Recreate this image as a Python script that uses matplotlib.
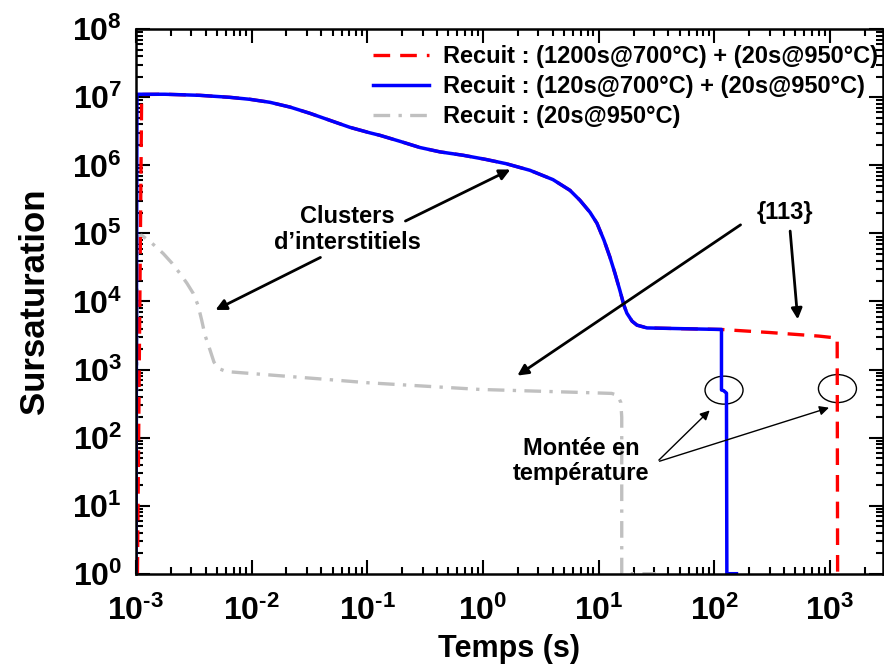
import numpy as np
import matplotlib
matplotlib.use("Agg")
import matplotlib.pyplot as plt
from matplotlib.patches import Ellipse
from matplotlib.ticker import LogLocator, NullFormatter

plt.rcParams['font.family'] = ['Liberation Sans', 'DejaVu Sans']
plt.rcParams['font.weight'] = 'bold'
plt.rcParams['mathtext.fontset'] = 'custom'
plt.rcParams['mathtext.bf'] = 'Liberation Sans:bold'
plt.rcParams['mathtext.rm'] = 'Liberation Sans:bold'

# donnees lues sur la figure
# recuit (120s@700C) + (20s@950C)
t_blue = [1.0e-3, 1.02e-3, 1.78e-3, 3.57e-3, 6.49e-3, 9.67e-3, 0.0144, 0.0214, 0.0319,
          0.0475, 0.0708, 0.105, 0.128, 0.191, 0.285, 0.424, 0.670, 1.04, 1.58, 2.54,
          4.02, 5.64, 6.88, 8.39, 9.65, 11.1, 12.5, 13.8, 15.2, 16.5, 17.5, 19.4, 21.4,
          26.1, 50.4, 115,
          115, 120, 127, 128, 155]
s_blue = [1, 1.11e7, 1.11e7, 1.07e7, 1.0e7, 9.35e6, 8.45e6, 7.2e6, 5.82e6,
          4.59e6, 3.62e6, 3.01e6, 2.77e6, 2.26e6, 1.83e6, 1.58e6, 1.41e6, 1.23e6, 1.06e6, 8.47e5,
          6.18e5, 4.3e5, 3.07e5, 2.05e5, 1.41e5, 7.94e4, 4.47e4, 2.6e4, 1.47e4, 8.8e3, 6.73e3, 5.14e3, 4.49e3,
          4.09e3, 3.99e3, 3.88e3,
          500, 490, 450, 1, 1]

# recuit (1200s@700C) + (20s@950C) : identique au precedent jusqu'a 115 s
t_red = [1.03e-3, 1.12e-3] + t_blue[2:36] + [300, 800, 1150, 1160]
s_red = [1, 1.1e7] + s_blue[2:36] + [3.5e3, 3.1e3, 2.9e3, 1]

# recuit (20s@950C)
t_gray = [1.0e-3, 1.03e-3, 1.12e-3, 1.375e-3, 1.72e-3, 2.05e-3, 2.4e-3, 2.76e-3, 3.13e-3,
          3.44e-3, 3.7e-3, 3.95e-3, 4.37e-3, 4.72e-3, 5.15e-3, 5.76e-3, 6.5e-3, 0.0445,
          0.1, 0.94, 6.9, 12.9, 14.5, 15.5, 15.8, 15.8, 31]
s_gray = [1, 9e4, 9.4e4, 7.18e4, 5.07e4, 3.65e4, 2.58e4, 1.85e4, 1.31e4,
          8.8e3, 5.3e3, 3.2e3, 1.93e3, 1.29e3, 1.04e3, 964, 925, 716,
          640, 510, 461, 446, 420, 330, 200, 1, 1]

labels = ["Recuit : (1200s@700°C) + (20s@950°C)",
          "Recuit : (120s@700°C) + (20s@950°C)",
          "Recuit : (20s@950°C)"]

x_exp = [-3, -2, -1, 0, 1, 2, 3]
y_exp = [0, 1, 2, 3, 4, 5, 6, 7, 8]


def exp_label(e):
    if e < 0:
        return r'$\mathbf{10^{\text{-}%d}}$' % (-e)
    return r'$\mathbf{10^{%d}}$' % e


fig = plt.figure(figsize=(8.84, 6.64), dpi=100)
ax = fig.add_axes([0.1538, 0.136, 0.8447, 0.8199])

l_gray, = ax.plot(t_gray, s_gray, color='#c0c0c0', lw=2.4, linestyle=(0, (5, 2.5, 1, 2.5)))
l_red, = ax.plot(t_red, s_red, color='#ff0000', lw=2.4, linestyle=(0, (5, 3)))
l_blue, = ax.plot(t_blue, s_blue, color='#0000ff', lw=2.5)

ax.set_xscale('log')
ax.set_yscale('log')
ax.set_xlim(1e-3, 2844)
ax.set_ylim(1, 1e8)

ax.set_xticks([10.0 ** e for e in x_exp])
ax.set_xticklabels([exp_label(e) for e in x_exp])
ax.set_yticks([10.0 ** e for e in y_exp])
ax.set_yticklabels([exp_label(e) for e in y_exp])
ax.xaxis.set_minor_locator(LogLocator(base=10, subs=np.arange(2, 10), numticks=100))
ax.yaxis.set_minor_locator(LogLocator(base=10, subs=np.arange(2, 10), numticks=100))
ax.xaxis.set_minor_formatter(NullFormatter())
ax.yaxis.set_minor_formatter(NullFormatter())

ax.tick_params(which='both', direction='in', top=True, right=True, width=1.5, labelsize=23)
ax.tick_params(which='major', length=10)
ax.tick_params(which='minor', length=5)
ax.tick_params(axis='x', pad=16)
ax.tick_params(axis='y', pad=10)
for sp in ax.spines.values():
    sp.set_linewidth(1.8)

ax.set_xlabel("Temps (s)", fontsize=22, fontweight='bold', labelpad=5)
ax.set_ylabel("Sursaturation", fontsize=25, fontweight='bold', labelpad=15)

ax.legend([l_red, l_blue, l_gray], labels, loc='upper right', frameon=False, fontsize=17,
          handlelength=2.35, handletextpad=0.6, labelspacing=0.3,
          bbox_to_anchor=(0.997, 0.975), borderaxespad=0.0, borderpad=0.1)

# annotations
ax.text(0.0673, 1.15e5, "Clusters\nd\u2019interstitiels", fontsize=17, fontweight='bold',
        ha='center', va='center', linespacing=1.15)
big = dict(arrowstyle='-|>', color='k', lw=2, mutation_scale=16)
ax.annotate('', xy=(1.81, 9.06e5), xytext=(0.203, 1.46e5), arrowprops=big)
ax.annotate('', xy=(4.63e-3, 7.2e3), xytext=(0.0413, 4.63e4), arrowprops=big)

ax.text(406, 2.05e5, "{113}", fontsize=17, fontweight='bold', ha='center', va='center')
ax.annotate('', xy=(1.89, 773), xytext=(176, 1.41e5), arrowprops=big)
ax.annotate('', xy=(527, 4.97e3), xytext=(449, 1.19e5), arrowprops=big)

ax.text(7.0, 45, "Montée en\ntempérature", fontsize=17, fontweight='bold',
        ha='center', va='center', linespacing=1.1)
thin = dict(arrowstyle='-|>', color='k', lw=1, mutation_scale=14)
ax.annotate('', xy=(94.6, 268), xytext=(31.8, 43.7), arrowprops=thin)
ax.annotate('', xy=(1030, 283), xytext=(31.8, 43.7), arrowprops=thin)

to_axes = ax.transAxes.inverted()
for c in [(121, 498), (1156, 525)]:
    cx, cy = to_axes.transform(ax.transData.transform(c))
    ax.add_patch(Ellipse((cx, cy), 0.0509, 0.0514, transform=ax.transAxes,
                         fill=False, edgecolor='k', lw=1))

fig.savefig("out.png", dpi=100)
